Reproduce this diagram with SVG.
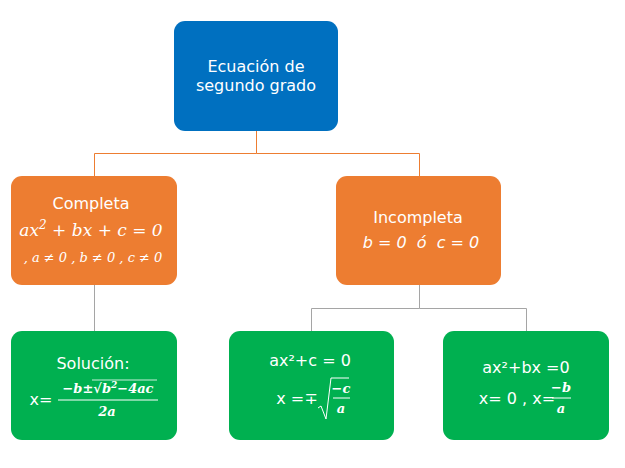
<svg xmlns="http://www.w3.org/2000/svg" width="625" height="468" viewBox="0 0 625 468">
<style>
.blue{fill:#0070C0}
.orange{fill:#ED7D31}
.green{fill:#00B050}
.t{font-family:"DejaVu Sans",Verdana,sans-serif;fill:#fff;text-anchor:middle;font-size:16px}
.m{font-family:"DejaVu Serif","Liberation Serif",serif;font-style:italic;fill:#fff;text-anchor:middle}
.f{font-weight:bold;font-size:13px}
.oc{stroke:#ED7D31;stroke-width:1;fill:none}
.gc{stroke:#A5A5A5;stroke-width:1;fill:none}
.w{stroke:#fff;stroke-width:1;fill:none}
</style>
<rect width="625" height="468" fill="#fff"/>
<g id="connectors">
<path class="oc" d="M256.5 131V153.5H94.5V176M256.5 153.5H419.5V176"/>
<path class="gc" d="M94.5 285V331"/>
<path class="gc" d="M419.5 285V308.5H311.5V331M419.5 308.5H526.5V331"/>
</g>
<g id="root">
<rect class="blue" x="174" y="21" width="164" height="110" rx="11"/>
<text class="t" x="256" y="72">Ecuación de</text>
<text class="t" x="256" y="91">segundo grado</text>
</g>
<g id="completa">
<rect class="orange" x="11" y="176" width="166" height="109" rx="11"/>
<text class="t" x="91" y="209">Completa</text>
<text class="m" x="91" y="236" font-size="17">ax<tspan font-size="12" dy="-7">2</tspan><tspan dy="7"> + bx + c = 0</tspan></text>
<text class="m" x="93" y="262" font-size="13">, a ≠ 0 , b ≠ 0 , c ≠ 0</text>
</g>
<g id="incompleta">
<rect class="orange" x="336" y="176" width="165" height="109" rx="11"/>
<text class="t" x="418" y="223">Incompleta</text>
<text class="t" x="421" y="248" font-style="italic" xml:space="preserve">b = 0  ó  c = 0</text>
</g>
<g id="solucion">
<rect class="green" x="11" y="331" width="166" height="109" rx="11"/>
<text class="t" x="93" y="369">Solución:</text>
<text class="t" x="41" y="405">x=</text>
<text class="m f" x="108" y="393">−b±√b<tspan font-size="9" dy="-5">2</tspan><tspan dy="5">−4ac</tspan></text>
<path d="M92 380H157" stroke="#fff" stroke-width="0.8"/>
<line class="w" x1="58" y1="400" x2="158" y2="400"/>
<text class="m f" x="107" y="416">2a</text>
</g>
<g id="sinb">
<rect class="green" x="229" y="331" width="165" height="109" rx="11"/>
<text class="t" x="310" y="366">ax²+c = 0</text>
<text class="t" x="297" y="404">x =∓</text>
<path class="w" d="M318 408L321 406L326 419L331 378H349"/>
<text class="m f" x="341" y="393">−c</text>
<line class="w" x1="333" y1="398" x2="350" y2="398"/>
<text class="m f" x="341" y="413">a</text>
</g>
<g id="sinc">
<rect class="green" x="443" y="331" width="166" height="109" rx="11"/>
<text class="t" x="526" y="373">ax²+bx =0</text>
<text class="t" x="517" y="404">x= 0 , x=</text>
<text class="m f" x="561" y="392">−b</text>
<line class="w" x1="552" y1="398" x2="571" y2="398"/>
<text class="m f" x="561" y="413">a</text>
</g>
</svg>
